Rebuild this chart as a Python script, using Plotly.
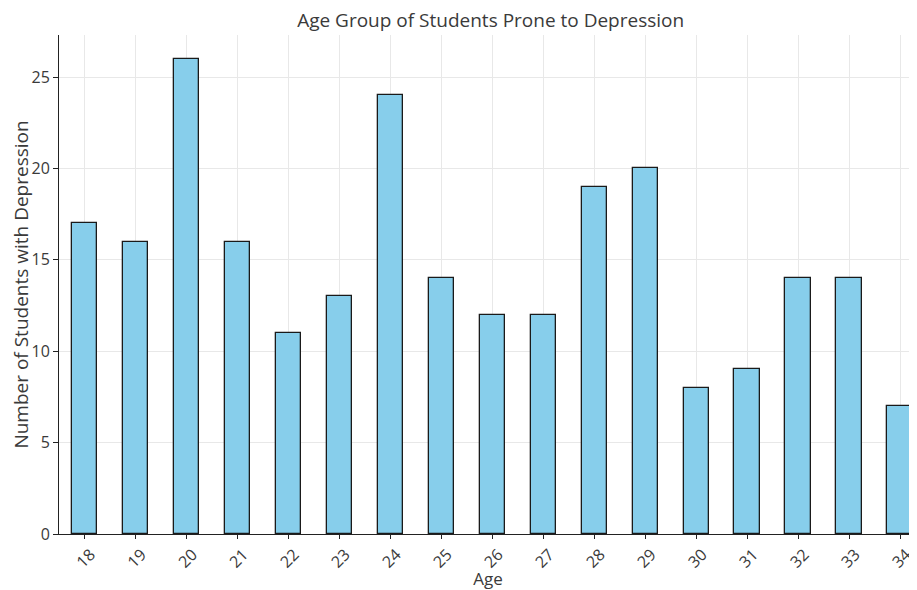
import plotly.graph_objects as go

ages = [18, 19, 20, 21, 22, 23, 24, 25, 26, 27, 28, 29, 30, 31, 32, 33, 34]
counts = [17, 16, 26, 16, 11, 13, 24, 14, 12, 12, 19, 20, 8, 9, 14, 14, 7]
tick_labels = [str(a) for a in ages]
y_ticks = [0, 5, 10, 15, 20, 25]

FONT = "Open Sans"
TXT = "#3a3a3a"

fig = go.Figure(go.Bar(
    x=ages, y=counts, width=0.5,
    marker=dict(color="#87CEEB", line=dict(color="#1a1a1a", width=1.3)),
))

fig.update_layout(
    width=909, height=582,
    margin=dict(l=51, r=0, t=27, b=56),
    paper_bgcolor="white", plot_bgcolor="white",
    font=dict(family=FONT, color=TXT, size=16),
    title=dict(text="Age Group of Students Prone to Depression", x=0.531, xanchor="center",
               xref="container", y=0.979, yanchor="middle", yref="container",
               font=dict(family=FONT, size=19, color=TXT)),
    showlegend=False,
    bargap=0,
)
fig.update_xaxes(
    range=[17.5, 34.33], tickvals=ages, ticktext=tick_labels, tickangle=-45,
    automargin=False, ticklabelshift=6, ticklabeloverflow="allow",
    showgrid=True, gridcolor="#e8e8e8", gridwidth=1,
    showline=True, linecolor="#222222", linewidth=1,
    ticks="outside", ticklen=4, tickcolor="#222222",
    title=dict(text="Age", font=dict(family=FONT, size=17, color=TXT), standoff=4),
    tickfont=dict(size=16, color=TXT),
)
fig.update_yaxes(
    range=[0, 27.3], tickvals=y_ticks,
    automargin=False,
    showgrid=True, gridcolor="#e8e8e8", gridwidth=1,
    showline=True, linecolor="#222222", linewidth=1, zeroline=False,
    ticks="outside", ticklen=5, tickcolor="#222222",
    title=dict(text="Number of Students with Depression", font=dict(family=FONT, size=19, color=TXT), standoff=10),
    tickfont=dict(size=16, color=TXT),
)

fig.write_html("out.html")
